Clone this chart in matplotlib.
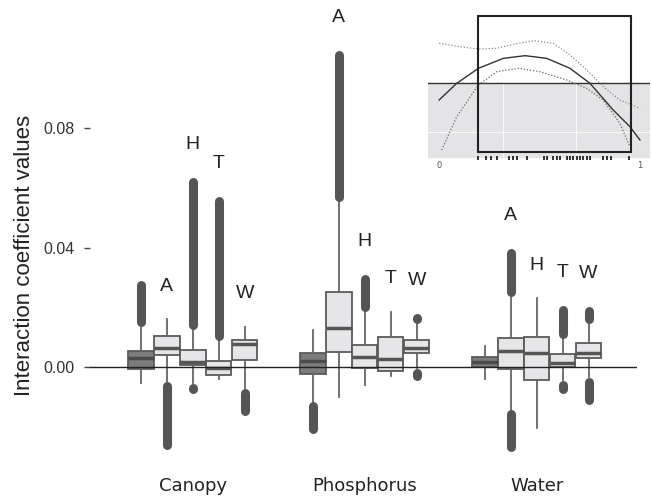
import matplotlib.pyplot as plt
from matplotlib.patches import Rectangle

# groups and the factor letter written above each box (first box has none)
groups = ['Canopy', 'Phosphorus', 'Water']
letters = ['', 'A', 'H', 'T', 'W']

# box statistics, one list per group
canopy_med = [0.0029, 0.0063, 0.0017, -0.0004, 0.0076]
canopy_q1 = [-0.0008, 0.0040, 0.0007, -0.0027, 0.0023]
canopy_q3 = [0.0055, 0.0104, 0.0057, 0.0021, 0.0090]
canopy_lo = [-0.0054, -0.0049, -0.0052, -0.0041, -0.0071]
canopy_hi = [0.0135, 0.0160, 0.0124, 0.0090, 0.0135]
canopy_out_hi = [(0.0135, 0.0291), None, (0.0124, 0.0635), (0.0090, 0.0572), None]
canopy_out_lo = [None, (-0.0276, -0.0049), (-0.0090, -0.0055), None, (-0.0161, -0.0071)]

phos_med = [0.0020, 0.0132, 0.0032, 0.0027, 0.0065]
phos_q1 = [-0.0023, 0.0051, -0.0004, -0.0012, 0.0046]
phos_q3 = [0.0048, 0.0252, 0.0074, 0.0099, 0.0090]
phos_lo = [-0.0116, -0.0099, -0.0060, -0.0030, -0.0004]
phos_hi = [0.0124, 0.0553, 0.0185, 0.0185, 0.0146]
phos_out_hi = [None, (0.0553, 0.1061), (0.0185, 0.0311), None, (0.0146, 0.0180)]
phos_out_lo = [(-0.0222, -0.0116), None, None, None, (-0.0044, -0.0004)]

water_med = [0.0018, 0.0055, 0.0048, 0.0012, 0.0046]
water_q1 = [-0.0001, -0.0008, -0.0044, 0.0001, 0.0029]
water_q3 = [0.0034, 0.0096, 0.0101, 0.0043, 0.0081]
water_lo = [-0.0041, -0.0144, -0.0203, -0.0044, -0.0034]
water_hi = [0.0071, 0.0235, 0.0230, 0.0096, 0.0146]
water_out_hi = [(0.0071, 0.0099), (0.0235, 0.0397), None, (0.0096, 0.0207), (0.0146, 0.0204)]
water_out_lo = [(-0.0071, -0.0041), (-0.0284, -0.0144), None, (-0.0088, -0.0044), (-0.0127, -0.0034)]

# inset: smooth effect with its band, and rug of observations
inset_x = [0.0, 0.088, 0.196, 0.32, 0.428, 0.536, 0.652, 0.751, 0.867, 0.95, 1.0]
inset_fit = [-0.23, -0.004, 0.198, 0.333, 0.369, 0.333, 0.198, -0.004, -0.365, -0.59, -0.77]
upper_x = [0.0, 0.104, 0.196, 0.287, 0.37, 0.47, 0.57, 0.652, 0.735, 0.818, 0.9, 1.0]
upper_y = [0.536, 0.49, 0.459, 0.469, 0.523, 0.572, 0.536, 0.378, 0.176, -0.05, -0.23, -0.342]
lower_x = [0.013, 0.088, 0.196, 0.287, 0.395, 0.502, 0.635, 0.735, 0.817, 0.9, 0.95]
lower_y = [-0.905, -0.455, -0.027, 0.153, 0.199, 0.153, 0.041, -0.072, -0.23, -0.545, -0.861]
rug_x = [0.196, 0.236, 0.261, 0.286, 0.35, 0.37, 0.386, 0.436, 0.522, 0.535, 0.569,
         0.585, 0.602, 0.635, 0.652, 0.668, 0.685, 0.701, 0.718, 0.735, 0.751,
         0.814, 0.834, 0.854, 0.947]

group_data = [
    (canopy_med, canopy_q1, canopy_q3, canopy_lo, canopy_hi, canopy_out_hi, canopy_out_lo),
    (phos_med, phos_q1, phos_q3, phos_lo, phos_hi, phos_out_hi, phos_out_lo),
    (water_med, water_q1, water_q3, water_lo, water_hi, water_out_hi, water_out_lo),
]

GROUP_STEP = 6.64
DARK = '#555555'

fig = plt.figure(figsize=(6.52, 4.96), dpi=100)
ax = fig.add_axes([90 / 652, 34 / 496, 547 / 652, 452 / 496])

cap = 0.0015  # half of the thick outlier stroke, in data units
for g, (med, q1, q3, lo, hi, out_hi, out_lo) in enumerate(group_data):
    stats = []
    pos = []
    for i in range(5):
        stats.append({'med': med[i], 'q1': q1[i], 'q3': q3[i],
                      'whislo': lo[i], 'whishi': hi[i], 'fliers': []})
        pos.append(g * GROUP_STEP + i)
    res = ax.bxp(stats, positions=pos, widths=0.98, patch_artist=True,
                 showfliers=False, showcaps=False,
                 boxprops=dict(edgecolor='#5a5a5a', linewidth=1.3),
                 whiskerprops=dict(color='#666666', linewidth=1.3),
                 medianprops=dict(color='#555555', linewidth=2.5))
    for i, patch in enumerate(res['boxes']):
        patch.set_facecolor('#7c7c7c' if i == 0 else '#e6e6e8')
    res['medians'][0].set_color('#4a4a4a')

    # dense outliers drawn as thick rounded strokes
    for i in range(5):
        top = hi[i]
        for rng in (out_hi[i], out_lo[i]):
            if rng is None:
                continue
            a, b = rng[0] + cap, rng[1] - cap
            if a > b:
                a = b = (rng[0] + rng[1]) / 2
            ax.plot([pos[i], pos[i]], [a, b], color=DARK, lw=6.5,
                    solid_capstyle='round', zorder=3)
            top = max(top, rng[1])
        if letters[i]:
            ax.text(pos[i], top + 0.011, letters[i], ha='center', va='center',
                    fontsize=14, family='Liberation Sans', color='#222222')

ax.axhline(0, color='#222222', lw=1.0, zorder=6)

ax.set_xlim(-1.97, 2 * GROUP_STEP + 4 + 1.87)
ax.set_ylim(-0.0318, 0.1195)
for s in ax.spines.values():
    s.set_visible(False)
ax.set_yticks([0.0, 0.04, 0.08])
ax.set_yticklabels(['0.00', '0.04', '0.08'], family='Liberation Sans')
ax.tick_params(axis='y', length=4, width=1, color='#444444', pad=7,
               labelsize=11.5, labelcolor='#333333')
ax.set_xticks([g * GROUP_STEP + 2 for g in range(3)])
ax.set_xticklabels(groups)
ax.tick_params(axis='x', length=0, pad=17, labelsize=13, labelcolor='#222222')
for lab in ax.get_xticklabels():
    lab.set_verticalalignment('center')

fig.text(25 / 652, 1 - 255 / 496, 'Interaction coefficient values', rotation=90,
         ha='center', va='center', fontsize=16, family='Liberation Sans',
         color='#222222')

# inset panel
ax_in = fig.add_axes([428 / 652, 1 - 160 / 496, 222 / 652, 150 / 496])
ax_in.set_xlim(-0.055, 1.05)
ax_in.set_ylim(-1.04, 0.986)
ax_in.axis('off')
ax_in.axhspan(-1.0, 0.0, color='#e4e4e6', zorder=0)
ax_in.plot([0.317, 0.317], [-1.0, 0.0], color='white', lw=0.6, zorder=1)
ax_in.plot([0.682, 0.682], [-1.0, 0.0], color='white', lw=0.6, zorder=1)
ax_in.axhline(-0.666, xmin=0, xmax=1, color='white', lw=0.6, zorder=1)
ax_in.axhline(0.0, color='#333333', lw=1.0, zorder=2)
ax_in.plot(upper_x, upper_y, color='#8a8a8a', lw=0.9, ls=(0, (1, 1.5)), zorder=3)
ax_in.plot(lower_x, lower_y, color='#666666', lw=0.9, ls=(0, (1, 1.5)), zorder=3)
ax_in.plot(inset_x, inset_fit, color='#333333', lw=1.0, zorder=3)
ax_in.add_patch(Rectangle((0.193, -0.936), 0.762, 1.841, fill=False,
                          edgecolor='#222222', lw=1.5, zorder=4))
ax_in.vlines(rug_x, -1.04, -0.985, color='#222222', lw=1.3, clip_on=False)
ax_in.text(0, -1.11, '0', ha='center', va='center', fontsize=6, color='#555555')
ax_in.text(1, -1.11, '1', ha='center', va='center', fontsize=6, color='#555555')

fig.savefig('out.png', dpi=100)
